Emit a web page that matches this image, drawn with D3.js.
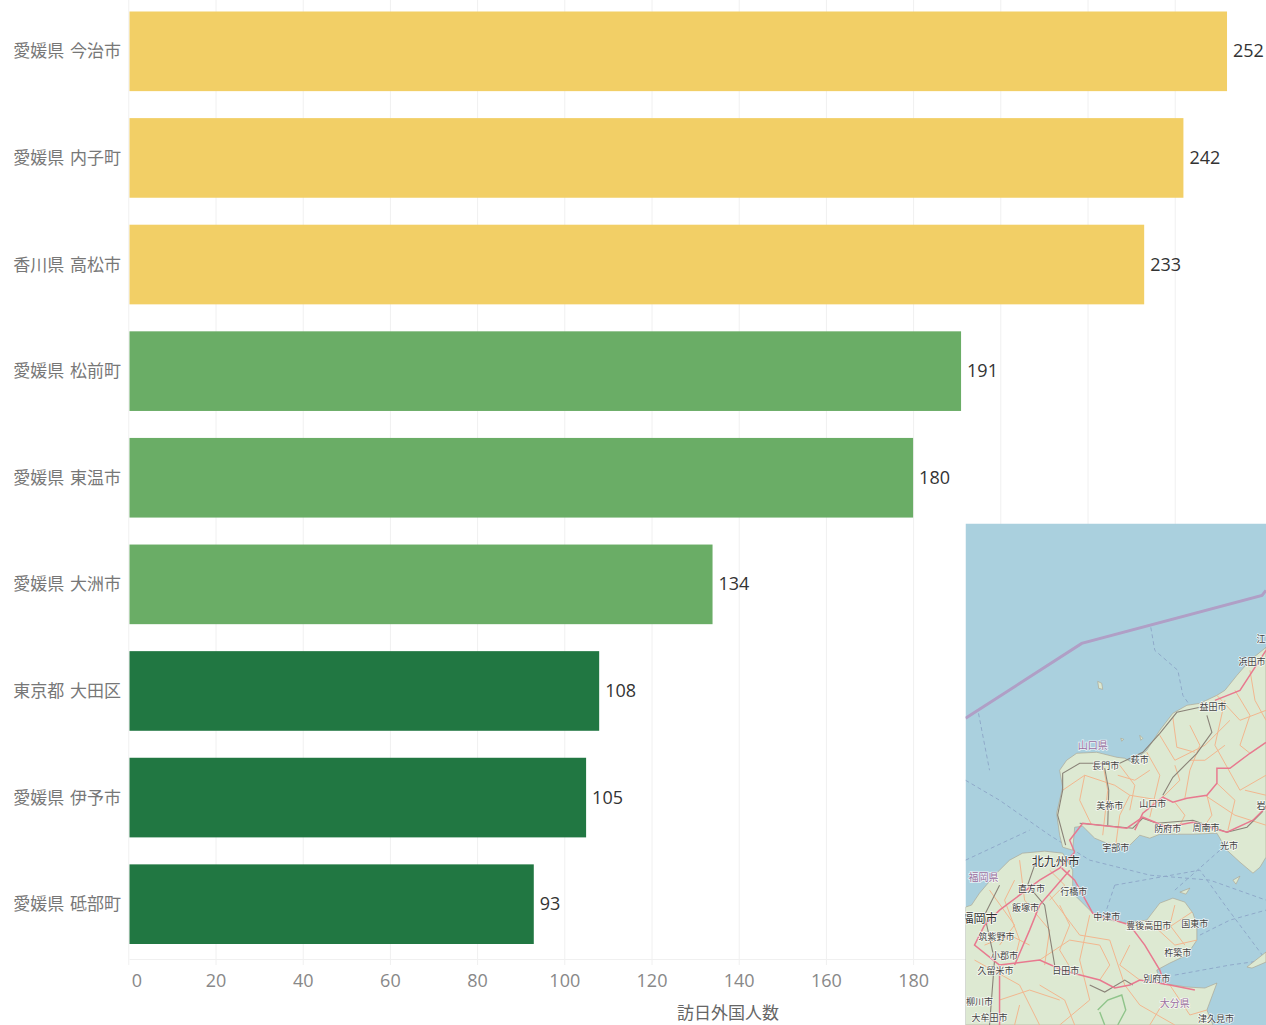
<!DOCTYPE html>
<html>
<head>
<meta charset="utf-8">
<script src="https://cdn.jsdelivr.net/npm/d3@7"></script>
<style>
html, body { margin: 0; padding: 0; background: #fff; overflow: hidden; }
svg { display: block; }
</style>
</head>
<body>
<div id="chart"></div>
<script>
let categories = ["愛媛県 今治市", "愛媛県 内子町", "香川県 高松市", "愛媛県 松前町", "愛媛県 東温市", "愛媛県 大洲市", "東京都 大田区", "愛媛県 伊予市", "愛媛県 砥部町"];
let visitors = [252, 242, 233, 191, 180, 134, 108, 105, 93];
let tiers = ["high", "high", "high", "mid", "mid", "mid", "low", "low", "low"];
let xTicks = [0, 20, 40, 60, 80, 100, 120, 140, 160, 180, 200, 220, 240];
let axisTitle = "訪日外国人数";

// inset map, in the map's own grid units
let landAreas = [
    [[1266,647],[1250,660],[1237,675],[1225,690],[1217,695],[1200,703],[1187,705],[1173,713],[1160,730],[1147,750],[1132,762],[1125,758],[1117,757],[1097,752],[1077,753],[1067,760],[1060,770],[1063,787],[1057,813],[1060,835],[1063,847],[1073,850],[1075,827],[1083,826],[1095,838],[1107,843],[1130,845],[1140,835],[1150,838],[1160,834],[1193,834],[1217,833],[1227,850],[1240,862],[1253,873],[1260,867],[1266,857]],
    [[966,907],[972,905],[980,893],[997,873],[1010,860],[1023,853],[1045,851],[1063,853],[1073,870],[1073,893],[1085,905],[1093,913],[1110,920],[1127,923],[1147,920],[1160,903],[1173,898],[1185,902],[1193,913],[1197,925],[1197,940],[1187,955],[1170,963],[1157,970],[1160,983],[1187,987],[1205,988],[1217,983],[1207,1010],[1213,1025],[966,1025]],
    [[1247,967],[1266,952],[1266,962],[1252,968]],
    [[1098,681],[1102,683],[1103,689],[1099,688]],
    [[1233,880],[1240,876],[1236,884]],
    [[1180,892],[1190,888],[1186,894]],
    [[1121,738],[1124,739],[1122,741]],
    [[1140,735],[1143,738],[1141,740]]
];
let mainRoads = [
    [[1266,742],[1250,753],[1230,768],[1217,768],[1217,783],[1207,795],[1187,798],[1173,802],[1163,797],[1143,813],[1135,830]],
    [[1266,807],[1253,820],[1227,832],[1193,822],[1167,827],[1143,817],[1127,828],[1083,823],[1070,840],[1075,852]],
    [[1075,852],[1060,868],[1040,880],[1000,910],[985,925],[975,945],[1000,965],[1000,1025]],
    [[1000,965],[1040,960],[1065,971],[1100,980],[1115,988],[1130,985],[1140,980],[1170,985],[1195,990]],
    [[1062,868],[1075,880],[1093,913],[1130,925],[1145,945],[1160,970],[1165,985]],
    [[1266,650],[1240,690],[1215,700]],
    [[1070,870],[1040,905],[1030,930],[1015,965]]
];
let minorRoads = [
    [[1063,790],[1085,775],[1115,785],[1130,795],[1160,800]],
    [[1103,763],[1108,790],[1103,835]],
    [[1147,752],[1160,775],[1150,817]],
    [[1173,717],[1177,747],[1195,752]],
    [[1217,695],[1240,720],[1266,710]],
    [[1225,700],[1215,745],[1240,790],[1266,775]],
    [[1160,735],[1175,760],[1205,745],[1230,720]],
    [[1130,795],[1120,815],[1116,845]],
    [[1020,860],[1025,900],[1050,930],[1045,965]],
    [[1050,895],[1080,935],[1110,940],[1125,985]],
    [[990,890],[1015,925],[1000,945]],
    [[1090,915],[1080,960],[1090,1000],[1060,1025]],
    [[1130,925],[1165,930],[1192,912]],
    [[1150,922],[1175,945],[1197,940]],
    [[975,960],[1020,985],[1040,1025]],
    [[1125,985],[1140,1005],[1175,1025]],
    [[1170,985],[1190,1015],[1207,1010]],
    [[1040,960],[1070,940],[1100,945]],
    [[1000,1000],[1030,990],[1060,1000]],
    [[1205,795],[1235,815],[1266,825]],
    [[1160,800],[1180,780],[1175,765]],
    [[1190,725],[1200,745],[1190,770],[1185,798]],
    [[1250,670],[1255,700],[1266,720]],
    [[1235,690],[1250,715],[1240,745],[1250,753]],
    [[1085,775],[1080,800],[1092,825]],
    [[1120,765],[1135,785],[1130,810]],
    [[1150,770],[1135,780],[1118,775]],
    [[1217,783],[1235,800],[1228,830]],
    [[1175,802],[1185,815],[1180,825]],
    [[1207,795],[1212,815],[1205,825]],
    [[1225,745],[1205,760],[1190,760]],
    [[1245,790],[1266,795]],
    [[1060,905],[1070,925],[1060,950],[1075,975]],
    [[1015,880],[1005,900],[1020,940],[1015,960]],
    [[985,945],[1010,935],[1030,945]],
    [[1040,985],[1065,1000],[1075,1025]],
    [[1100,945],[1110,965],[1100,980]],
    [[1130,945],[1120,965],[1140,980]],
    [[1165,1000],[1150,1025]],
    [[1175,905],[1170,925],[1185,945]],
    [[1020,1005],[1015,1025]],
    [[1050,870],[1065,885],[1050,900]]
];
let rails = [
    [[1207,715],[1212,732],[1197,753],[1173,777],[1163,795]],
    [[1200,707],[1177,712],[1160,733],[1143,752],[1120,763],[1080,763],[1063,773],[1063,790],[1058,815],[1066,845]],
    [[1080,823],[1133,828],[1143,818],[1157,823],[1193,820],[1227,832],[1247,827],[1262,812],[1266,805]],
    [[1035,865],[1028,885],[1045,905],[1055,965]],
    [[1105,768],[1109,790],[1108,825]],
    [[1133,985],[1125,980],[1105,992],[1090,985]],
    [[1000,885],[985,915],[995,960],[990,1025]]
];
let seaBorders = [
    [[1151,627],[1155,650],[1178,670],[1183,695],[1190,705]],
    [[979,713],[990,770]],
    [[966,780],[1000,800],[1050,835],[1090,860],[1150,875],[1210,880],[1266,900]],
    [[966,860],[1030,830]],
    [[1115,885],[1105,915]],
    [[1115,885],[1200,870],[1225,905],[1266,960]],
    [[1175,890],[1220,850]],
    [[1200,935],[1230,920],[1266,910]],
    [[1175,975],[1230,965],[1266,960]]
];
let parkEdges = [
    [[1098,1010],[1108,1000],[1122,995],[1126,1010],[1118,1025]],
    [[1105,1025],[1100,1012]]
];
let boundaryLine = [[966,718],[1082,643],[1262,595],[1266,590]];
let cityNames = ["浜田市", "益田市", "萩市", "長門市", "美祢市", "山口市", "防府市", "周南市", "宇部市", "光市", "岩", "江", "直方市", "行橋市", "飯塚市", "中津市", "豊後高田市", "国東市", "筑紫野市", "杵築市", "小郡市", "久留米市", "日田市", "別府市", "柳川市", "津久見市", "大牟田市"];
let cityX = [1252, 1213, 1140, 1106, 1110, 1153, 1168, 1206, 1116, 1229, 1261, 1261, 1032, 1074, 1026, 1107, 1149, 1195, 997, 1178, 1005, 996, 1066, 1157, 980, 1216, 990];
let cityY = [661, 706, 759, 766, 806, 804, 829, 828, 848, 846, 806, 638, 889, 892, 908, 917, 926, 924, 937, 953, 956, 971, 971, 979, 1002, 1019, 1018];
let bigCityNames = ["北九州市", "福岡市"];
let bigCityX = [1056, 980];
let bigCityY = [862, 919];
let prefNames = ["山口県", "福岡県", "大分県"];
let prefX = [1093, 984, 1175];
let prefY = [745, 877, 1003];

let width = 1266;
let height = 1025;
let jpFont = "'Noto Sans CJK JP', sans-serif";
let numFont = "'Open Sans', sans-serif";

let svg = d3.select('#chart')
            .append('svg')
            .attr('width', width)
            .attr('height', height)

let xScale = d3.scaleLinear()
                .domain([0, 240])
                .range([128.3, 1174.7])
let yScale = d3.scaleBand()
                .domain(categories)
                .range([11.5, 944])
                .paddingInner(0.253)
let color = d3.scaleOrdinal()
                .domain(["high", "mid", "low"])
                .range(["#f2cf66", "#6aad66", "#217742"])

let barLeft = 129.5;

// gridlines
let grid = svg.append('g')
    .attr('transform', 'translate(0,965)')
    .call(d3.axisBottom(xScale).tickValues(xTicks).tickSize(-965).tickFormat(''))
grid.select('.domain').remove()
grid.selectAll('line').attr('stroke', '#f0f0f0')

svg.append('line')
    .attr('x1', barLeft)
    .attr('x2', width)
    .attr('y1', 959.5)
    .attr('y2', 959.5)
    .attr('stroke', '#f0f0f0')

// bars
svg.selectAll('.bar')
    .data(categories)
    .enter()
    .append('rect')
        .attr('class', 'bar')
        .attr('x', barLeft)
        .attr('y', d => yScale(d))
        .attr('width', (d, i) => xScale(visitors[i]) - barLeft)
        .attr('height', yScale.bandwidth())
        .attr('fill', (d, i) => color(tiers[i]))

// value labels
svg.selectAll('.value')
    .data(categories)
    .enter()
    .append('text')
        .attr('class', 'value')
        .attr('x', (d, i) => xScale(visitors[i]) + 6)
        .attr('y', d => yScale(d) + yScale.bandwidth() / 2 - 0.5)
        .attr('dy', '0.36em')
        .style('font-family', numFont)
        .style('font-size', '18px')
        .style('fill', '#333')
        .text((d, i) => visitors[i])

// category labels
svg.selectAll('.cat')
    .data(categories)
    .enter()
    .append('text')
        .attr('class', 'cat')
        .attr('x', 121)
        .attr('y', d => yScale(d) + yScale.bandwidth() / 2)
        .attr('dy', '0.36em')
        .attr('text-anchor', 'end')
        .style('font-family', jpFont)
        .style('font-size', '17px')
        .style('word-spacing', '2px')
        .style('fill', '#777')
        .text(d => d)

// x axis labels
let xAxis = svg.append('g')
    .attr('transform', 'translate(0,968)')
    .call(d3.axisBottom(xScale).tickValues(xTicks.slice(0, 10)).tickSize(0).tickPadding(6))
xAxis.select('.domain').remove()
xAxis.selectAll('text')
    .style('font-family', numFont)
    .style('font-size', '18px')
    .style('fill', '#888')
    .attr('dx', d => d == 0 ? 8 : 0)

svg.append('text')
    .attr('x', 728)
    .attr('y', 1019)
    .attr('text-anchor', 'middle')
    .style('font-family', jpFont)
    .style('font-size', '17px')
    .style('fill', '#666')
    .text(axisTitle)

// inset map
let mapX = d3.scaleLinear().domain([966, 1266]).range([965.5, 1266])
let mapY = d3.scaleLinear().domain([523, 1025]).range([523.5, 1025])
let mapLine = d3.line().x(d => mapX(d[0])).y(d => mapY(d[1]))

svg.append('clipPath')
    .attr('id', 'map-clip')
    .append('rect')
        .attr('x', mapX(966))
        .attr('y', mapY(523))
        .attr('width', mapX(1266) - mapX(966))
        .attr('height', mapY(1025) - mapY(523))

let soft = svg.append('filter').attr('id', 'soft')
soft.append('feGaussianBlur').attr('stdDeviation', 0.5)

let map = svg.append('g').attr('clip-path', 'url(#map-clip)')

map.append('rect')
    .attr('x', mapX(966))
    .attr('y', mapY(523))
    .attr('width', mapX(1266) - mapX(966))
    .attr('height', mapY(1025) - mapY(523))
    .attr('fill', '#aad0de')

let ground = map.append('g').attr('filter', 'url(#soft)')

function drawLines(lines, stroke, strokeWidth, dash) {
    ground.append('g')
        .selectAll('path')
        .data(lines)
        .enter()
        .append('path')
            .attr('d', mapLine)
            .attr('fill', 'none')
            .attr('stroke', stroke)
            .attr('stroke-width', strokeWidth)
            .attr('stroke-dasharray', dash)
}

drawLines(seaBorders, '#8fa9c9', 1, '4 3')

ground.append('g')
    .selectAll('path')
    .data(landAreas)
    .enter()
    .append('path')
        .attr('d', d => mapLine(d) + 'Z')
        .attr('fill', '#dde9d2')
        .attr('stroke', '#a89f8c')
        .attr('stroke-width', 0.6)

drawLines(minorRoads, '#f2b78f', 1, null)
drawLines(parkEdges, '#8fc48a', 1.4, null)
drawLines(rails, '#8a8378', 1.1, null)
drawLines(mainRoads, '#e8798f', 1.5, null)
drawLines([boundaryLine], '#b09fc6', 3, null)

function drawLabels(names, xs, ys, size, fill) {
    map.append('g')
        .selectAll('text')
        .data(names)
        .enter()
        .append('text')
            .attr('x', (d, i) => mapX(xs[i]))
            .attr('y', (d, i) => mapY(ys[i]))
            .attr('dy', '0.36em')
            .attr('text-anchor', 'middle')
            .style('font-family', jpFont)
            .style('font-size', size + 'px')
            .style('fill', fill)
            .style('stroke', 'rgba(255,255,255,0.75)')
            .style('stroke-width', '1.5px')
            .style('paint-order', 'stroke')
            .text(d => d)
}

drawLabels(cityNames, cityX, cityY, 9, '#444')
drawLabels(bigCityNames, bigCityX, bigCityY, 12, '#333')
drawLabels(prefNames, prefX, prefY, 10, '#9a6fa0')
</script>
</body>
</html>
